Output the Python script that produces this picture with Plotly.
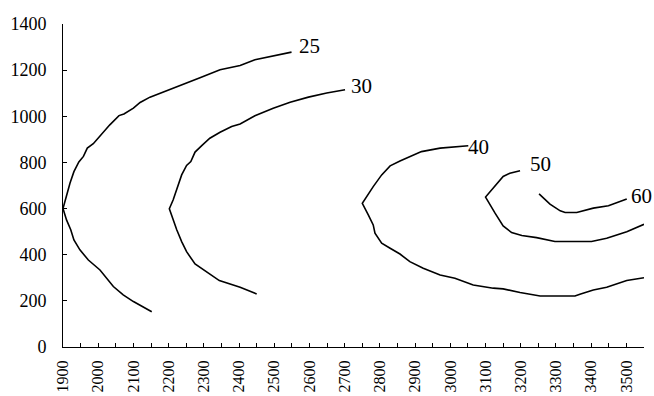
import plotly.graph_objects as go

# Contour levels and their traced polylines (x, y)
levels = ["25", "30", "40", "50", "60"]

x_25 = [2549, 2488, 2445, 2403, 2346, 2289, 2242, 2194, 2147, 2119, 2100, 2073, 2059, 2033,
        2005, 1986, 1969, 1958, 1945, 1931, 1920, 1900, 1910, 1922, 1931, 1948, 1972, 2005,
        2043, 2071, 2100, 2128, 2152]
y_25 = [1278, 1259, 1245, 1220, 1202, 1167, 1140, 1112, 1083, 1060, 1035, 1010, 1003, 963,
        912, 881, 862, 826, 802, 760, 711, 600, 551, 508, 464, 421, 377, 334,
        262, 226, 197, 172, 153]

x_30 = [2701, 2649, 2597, 2545, 2497, 2445, 2403, 2379, 2346, 2317, 2294, 2275, 2263, 2251,
        2237, 2213, 2202, 2213, 2223, 2237, 2251, 2275, 2308, 2344, 2403, 2450]
y_30 = [1115, 1101, 1083, 1061, 1035, 1002, 967, 956, 931, 905, 873, 845, 804, 787,
        746, 638, 599, 551, 508, 457, 413, 360, 327, 288, 259, 230]

x_40 = [3051, 3008, 2971, 2918, 2886, 2857, 2829, 2805, 2781, 2762, 2750,
        2767, 2781, 2786, 2805, 2829, 2857, 2885, 2923, 2971, 3013, 3065, 3122, 3150,
        3198, 3255, 3354, 3368, 3406, 3444, 3501, 3550]
y_40 = [872, 865, 862, 847, 826, 806, 785, 746, 695, 652, 623,
        573, 529, 493, 450, 428, 403, 370, 341, 312, 298, 269, 255, 252,
        236, 221, 221, 229, 247, 259, 288, 300]

x_50 = [3198, 3169, 3150, 3122, 3100, 3127, 3150, 3174, 3203, 3245, 3297, 3401, 3444, 3501, 3550]
y_50 = [764, 753, 739, 689, 650, 580, 525, 496, 483, 474, 457, 457, 471, 500, 532]

x_60 = [3252, 3283, 3312, 3326, 3359, 3406, 3449, 3501]
y_60 = [664, 619, 590, 583, 583, 602, 612, 642]

# Label positions for each contour level
label_x = [2601, 2747, 3081, 3255, 3543]
label_y = [1303, 1132, 869, 794, 656]

# Axis ticks
x_ticks = list(range(1900, 3551, 50))
x_tick_text = [str(v) if v % 100 == 0 else "" for v in x_ticks]
y_ticks = list(range(0, 1401, 200))

curves = [(x_25, y_25), (x_30, y_30), (x_40, y_40), (x_50, y_50), (x_60, y_60)]

FONT = "Liberation Serif, Times New Roman, serif"

fig = go.Figure()
for name, (xs, ys) in zip(levels, curves):
    fig.add_trace(go.Scatter(x=xs, y=ys, mode="lines", name=name,
                             line=dict(color="black", width=1.6),
                             showlegend=False, hoverinfo="skip"))

for name, lx, ly in zip(levels, label_x, label_y):
    fig.add_annotation(x=lx, y=ly, text=name, showarrow=False,
                       xanchor="center", yanchor="middle",
                       font=dict(family=FONT, size=21, color="black"))

fig.update_layout(
    width=654, height=396,
    margin=dict(l=63, r=10, t=24, b=49),
    paper_bgcolor="white", plot_bgcolor="white",
    font=dict(family=FONT, color="black"),
)
fig.update_xaxes(
    range=[1900, 3550], tickmode="array", tickvals=x_ticks, ticktext=x_tick_text,
    tickangle=-90, ticks="inside", ticklen=4, tickcolor="black",
    showline=True, linecolor="black", linewidth=1, automargin=False,
    showgrid=False, zeroline=False, ticklabelstandoff=6,
    tickfont=dict(family=FONT, size=16, color="black"),
)
fig.update_yaxes(
    range=[0, 1400], tickmode="array", tickvals=y_ticks,
    ticks="inside", ticklen=4, tickcolor="black", automargin=False,
    showline=True, linecolor="black", linewidth=1,
    showgrid=False, zeroline=False, ticklabelstandoff=12,
    tickfont=dict(family=FONT, size=18, color="black"),
)

fig.write_html("out.html")
